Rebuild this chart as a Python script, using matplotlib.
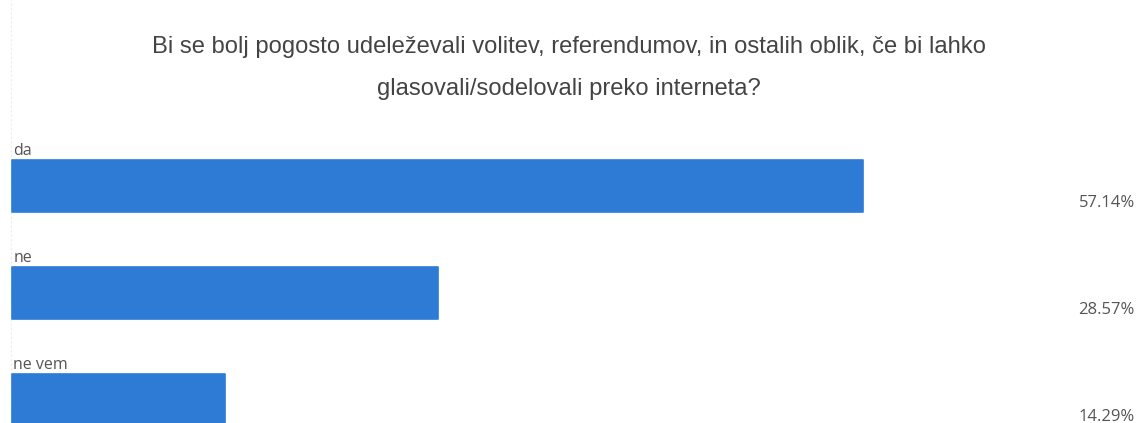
import matplotlib.pyplot as plt

# odgovori in deleži (v %)
answers = ["da", "ne", "ne vem"]
shares = [57.14, 28.57, 14.29]
share_labels = ["57.14%", "28.57%", "14.29%"]

title_lines = ["Bi se bolj pogosto udeleževali volitev, referendumov, in ostalih oblik, če bi lahko",
               "glasovali/sodelovali preko interneta?"]

bar_color = "#2e7bd6"
text_color = "#555555"

fig = plt.figure(figsize=(11.37, 4.23), dpi=100)
ax = fig.add_axes([0, 0, 1, 1])

px_per_pct = 14.894        # širina stolpca na odstotek
left_px = 12
ax.set_xlim(-left_px / px_per_pct, (1137 - left_px) / px_per_pct)
ax.set_ylim((423 - 186) / 107, -186 / 107)

bar_h = 0.486
ypos = range(len(answers))
ax.barh(ypos, shares, height=bar_h, color=bar_color, edgecolor=bar_color,
        linewidth=1.2, joinstyle="round")

for i, (name, lab) in enumerate(zip(answers, share_labels)):
    ax.text(0.1, i - bar_h / 2 - 0.05, name, ha="left", va="baseline",
            fontsize=11.5, family="Open Sans", color=text_color)
    ax.text(0.998, i + 0.16, lab, ha="right", va="center",
            fontsize=12, family="Open Sans", color=text_color,
            transform=ax.get_yaxis_transform())

# tanka navpična črta na levem robu
ax.axvline(-0.05, color="#ececec", lw=0.8, ls=(0, (2, 2)), zorder=0)

for k, line in enumerate(title_lines):
    fig.text(0.5, 1 - (47 + 42 * k) / 423, line, ha="center", va="center",
             fontsize=17.1, family="Liberation Sans", color="#444444")

ax.axis("off")
fig.savefig("out.png", dpi=100)
